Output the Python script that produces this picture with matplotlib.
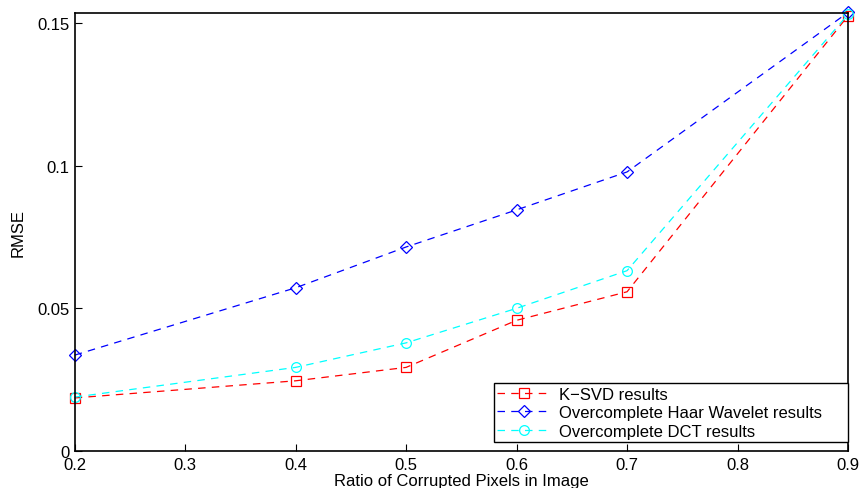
import matplotlib
matplotlib.use("Agg")
import matplotlib.pyplot as plt

ratio = [0.2, 0.4, 0.5, 0.6, 0.7, 0.9]
ksvd = [0.0186, 0.0246, 0.0293, 0.0458, 0.0558, 0.1525]
haar = [0.0336, 0.0572, 0.0715, 0.0845, 0.0978, 0.1537]
dct = [0.0189, 0.0293, 0.0379, 0.0500, 0.0632, 0.1530]

x_ticks = [0.2, 0.3, 0.4, 0.5, 0.6, 0.7, 0.8, 0.9]
y_ticks = [0, 0.05, 0.1, 0.15]
y_labels = ["0", "0.05", "0.1", "0.15"]

plt.rcParams["font.family"] = ["Liberation Sans", "DejaVu Sans"]

fig = plt.figure(figsize=(8.62, 4.89), dpi=100)
ax = fig.add_axes([74.7 / 862, 1 - 452 / 489, (848 - 74.7) / 862, (452 - 14) / 489])

common = dict(linestyle=(0, (6, 5)), linewidth=0.9, markersize=7,
              markerfacecolor="none", markeredgewidth=0.9, clip_on=False)
ax.plot(ratio, ksvd, color="#ff0000", marker="s", label="K\u2212SVD results", **common)
ax.plot(ratio, haar, color="#0000ff", marker="D", markersize=6.5,
        label="Overcomplete Haar Wavelet results",
        **{k: v for k, v in common.items() if k != "markersize"})
ax.plot(ratio, dct, color="#00ffff", marker="o", label="Overcomplete DCT results", **common)

ax.set_xlim(0.2, 0.9)
ax.set_ylim(0, 0.1535)
ax.set_xticks(x_ticks)
ax.set_xticklabels([f"{t:g}" for t in x_ticks])
ax.set_yticks(y_ticks)
ax.set_yticklabels(y_labels)
ax.tick_params(direction="in", length=5, width=0.8, labelsize=12, pad=4, colors="black")
for s in ax.spines.values():
    s.set_linewidth(1.2)

ax.set_xlabel("Ratio of Corrupted Pixels in Image", fontsize=12, labelpad=1)
ax.set_ylabel("RMSE", fontsize=12, labelpad=8)

# MATLAB-style legend: extra room on the right of the text
handles, labels = ax.get_legend_handles_labels()
labels = [lab + "     " for lab in labels]
leg = ax.legend(handles, labels, loc="lower right", bbox_to_anchor=(1.0, 0.02),
                fontsize=12, frameon=True, fancybox=False, edgecolor="black",
                framealpha=1, handlelength=3.2, borderpad=0.2, labelspacing=0.22,
                handletextpad=0.5, borderaxespad=0.0)
leg.get_frame().set_linewidth(1.0)

fig.savefig("out.png", dpi=100, facecolor="white")
